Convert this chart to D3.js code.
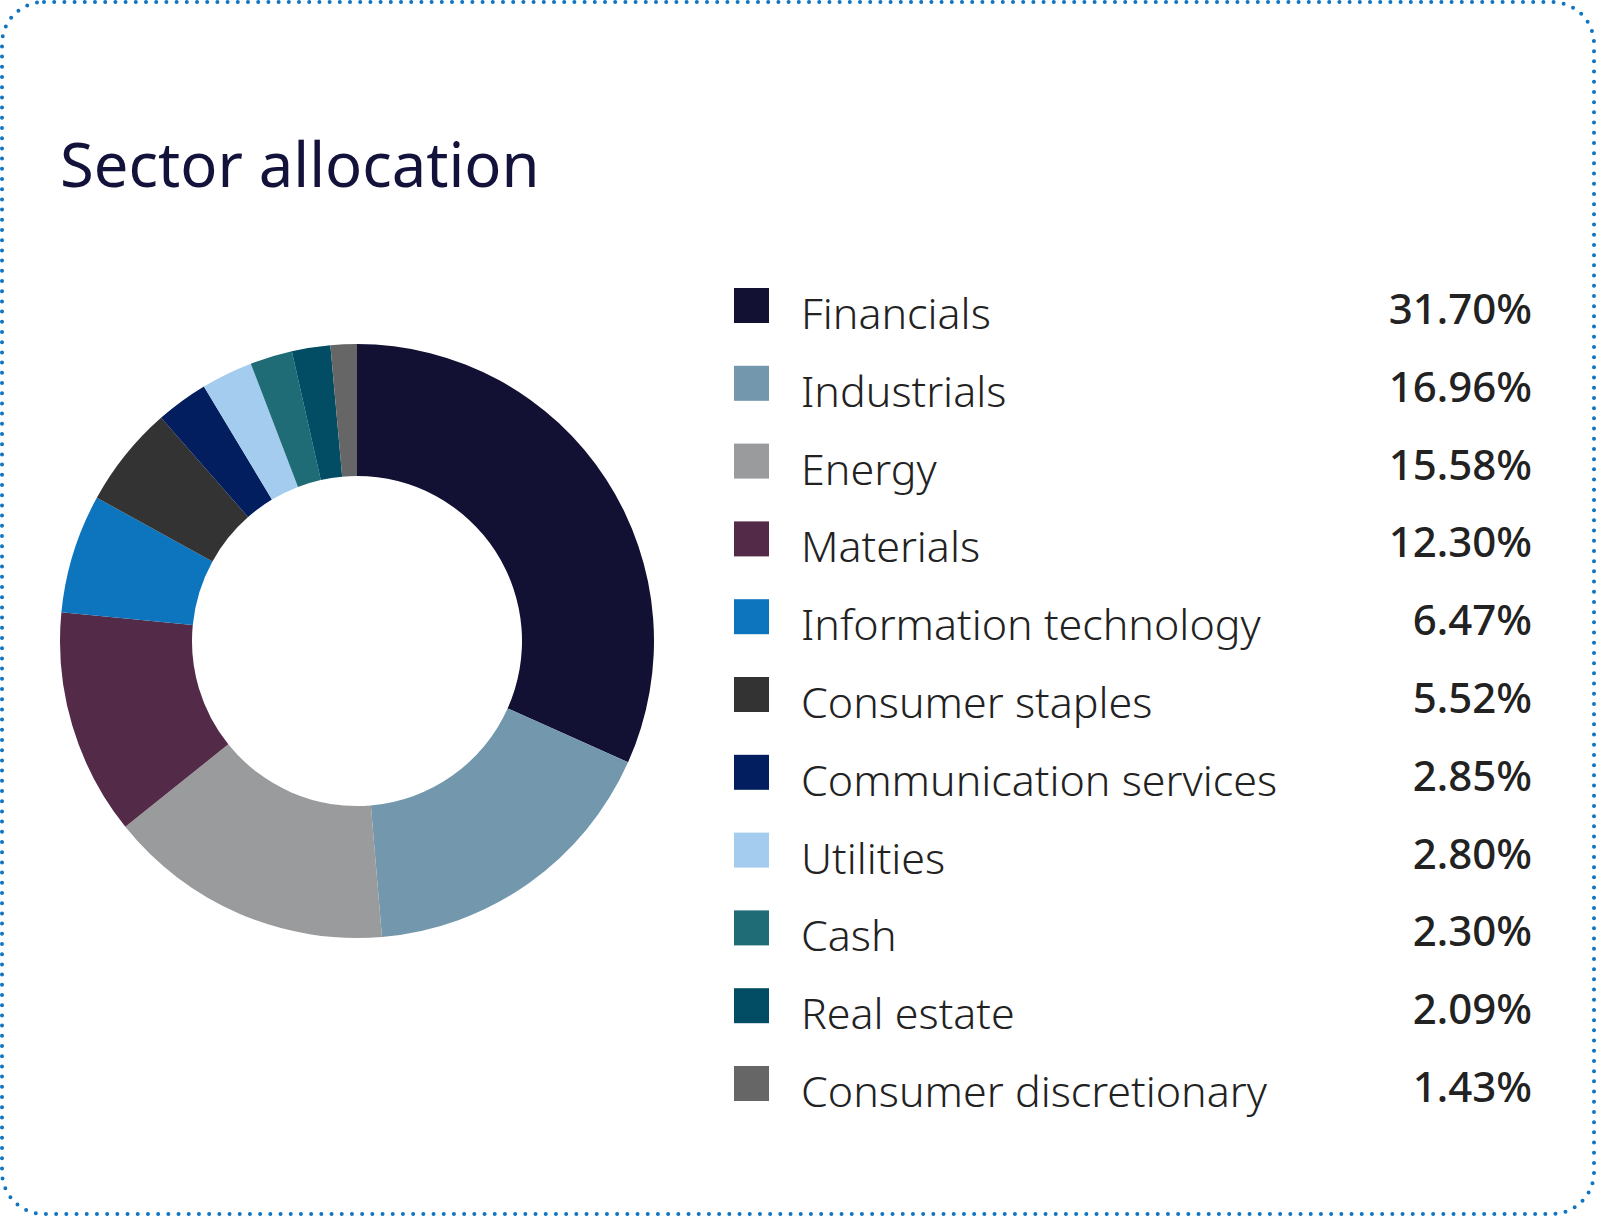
<!DOCTYPE html>
<html>
<head>
<meta charset="utf-8">
<script src="https://cdn.jsdelivr.net/npm/d3@7"></script>
<style>
  body { margin: 0; background: #fff; }
  svg { display: block; }
</style>
</head>
<body>
<svg id="chart" width="1597" height="1217"></svg>
<script>
// Data – sector allocation
const sectors = ["Financials", "Industrials", "Energy", "Materials", "Information technology",
  "Consumer staples", "Communication services", "Utilities", "Cash", "Real estate", "Consumer discretionary"];
const weights = [31.70, 16.96, 15.58, 12.30, 6.47, 5.52, 2.85, 2.80, 2.30, 2.09, 1.43];
const colours = ["#131133", "#7397ad", "#9a9b9d", "#532b48", "#0d74be", "#333333",
  "#021e5e", "#a3ccee", "#1f6c77", "#024d63", "#666666"];

const svg = d3.select("#chart");
const W = 1597, H = 1217;

// rámeček s tečkami
svg.append("rect")
  .attr("x", 2).attr("y", 2)
  .attr("width", W - 5).attr("height", H - 5)
  .attr("rx", 42).attr("ry", 42)
  .attr("fill", "none")
  .attr("stroke", "#0f74c2")
  .attr("stroke-width", 4)
  .attr("stroke-linecap", "round")
  .attr("stroke-dasharray", "0 10.2");

// nadpis
svg.append("text")
  .attr("x", 60).attr("y", 187)
  .attr("font-family", "'Noto Sans', sans-serif")
  .attr("font-size", 61.5)
  .attr("fill", "#13123a")
  .text("Sector allocation");

// donut
const data = sectors.map((s, i) => ({ name: s, value: weights[i], colour: colours[i] }));
const pie = d3.pie().value(d => d.value).sort(null);
const arc = d3.arc().innerRadius(165).outerRadius(297);

const g = svg.append("g").attr("transform", "translate(357,641)");
g.selectAll("path")
  .data(pie(data))
  .join("path")
  .attr("d", arc)
  .attr("fill", d => d.data.colour);

// legenda
const rows = d3.scaleBand()
  .domain(sectors)
  .range([291, 291 + 77.8 * sectors.length]);

const legend = svg.append("g");
const item = legend.selectAll("g")
  .data(data)
  .join("g")
  .attr("transform", d => `translate(0,${rows(d.name)})`);

item.append("rect")
  .attr("x", 734).attr("y", -3)
  .attr("width", 35).attr("height", 35)
  .attr("fill", d => d.colour);

item.append("text")
  .attr("x", 801).attr("y", 38)
  .attr("font-family", "'Noto Sans Light', 'Noto Sans', sans-serif")
  .attr("font-weight", 300)
  .attr("font-size", 43)
  .attr("fill", "#222")
  .text(d => d.name);

item.append("text")
  .attr("x", 1532).attr("y", 33)
  .attr("text-anchor", "end")
  .attr("font-family", "'Noto Sans', sans-serif")
  .attr("font-weight", 500)
  .attr("font-size", 42)
  .attr("fill", "#222")
  .text(d => d.value.toFixed(2) + "%");
</script>
</body>
</html>
